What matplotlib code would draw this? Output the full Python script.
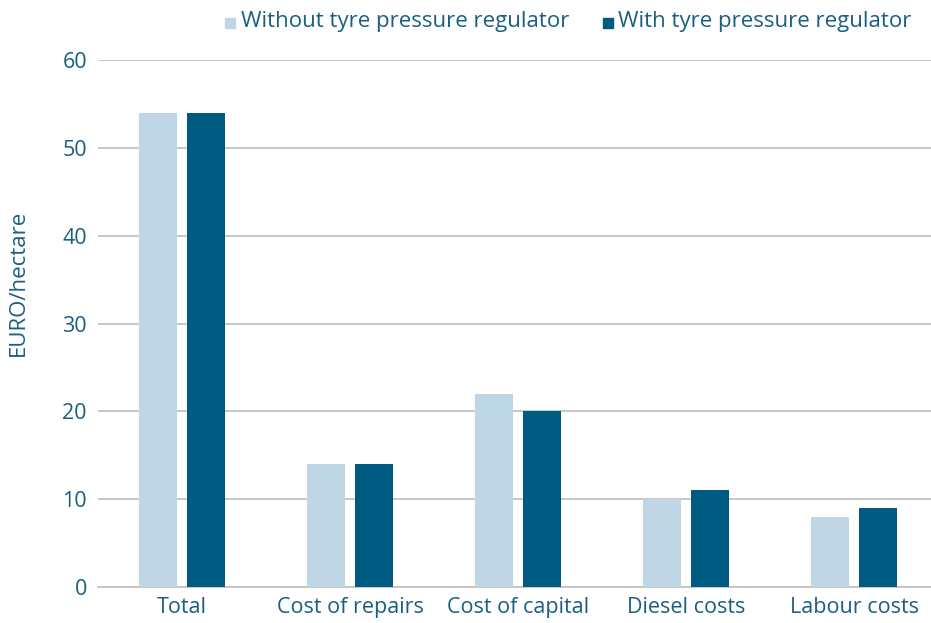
import numpy as np
import matplotlib.pyplot as plt
from matplotlib.patches import Rectangle

plt.rcParams['font.family'] = ['Open Sans', 'DejaVu Sans']

categories = ['Total', 'Cost of repairs', 'Cost of capital', 'Diesel costs', 'Labour costs']
without_reg = [54, 14, 22, 10, 8]
with_reg = [54, 14, 20, 11, 9]
series_labels = ['Without tyre pressure regulator', 'With tyre pressure regulator']

light = '#bed6e5'
dark = '#005b82'
txt = '#1b5f80'

W, H = 931, 623
fig = plt.figure(figsize=(W/100, H/100), dpi=100)
ax = fig.add_axes([98/W, 1-587/H, 1-98/W, (587-60)/H])

x = np.arange(len(categories))
w = 0.226
off = 0.143
ax.bar(x - off, without_reg, w, color=light, zorder=3)
ax.bar(x + off, with_reg, w, color=dark, zorder=3)

ax.set_xlim(-0.5, 4.458)
ax.set_ylim(0, 60)
ax.set_yticks(np.arange(0, 61, 10))
ax.yaxis.grid(True, color='#c3c3c3', lw=1.3, zorder=0)
ax.set_axisbelow(True)
for s in ['top', 'right', 'left']:
    ax.spines[s].set_visible(False)
ax.spines['bottom'].set_color('#c3c3c3')
ax.spines['bottom'].set_linewidth(1.3)
ax.set_xticks(x)
ax.set_xticklabels(categories)
ax.tick_params(axis='both', length=0, labelsize=15.5, labelcolor=txt)
ax.tick_params(axis='y', pad=8)
ax.tick_params(axis='x', pad=7)
ax.set_ylabel('EURO/hectare', fontsize=16, color=txt)
ax.yaxis.set_label_coords(-(98-29)/(W-98), (587-283)/(587-60))

# legend drawn by hand (small squares + text) across the top
legend_items = [(225, 241, light, series_labels[0]), (603, 618, dark, series_labels[1])]
for sq_x, tx_x, col, lab in legend_items:
    fig.patches.append(Rectangle((sq_x/W, 1-28/H), 10/W, 10/H, color=col,
                                 transform=fig.transFigure, figure=fig))
    fig.text(tx_x/W, 1-22/H, lab, fontsize=16, color=txt, va='center', ha='left')

fig.savefig('out.png', dpi=100)
